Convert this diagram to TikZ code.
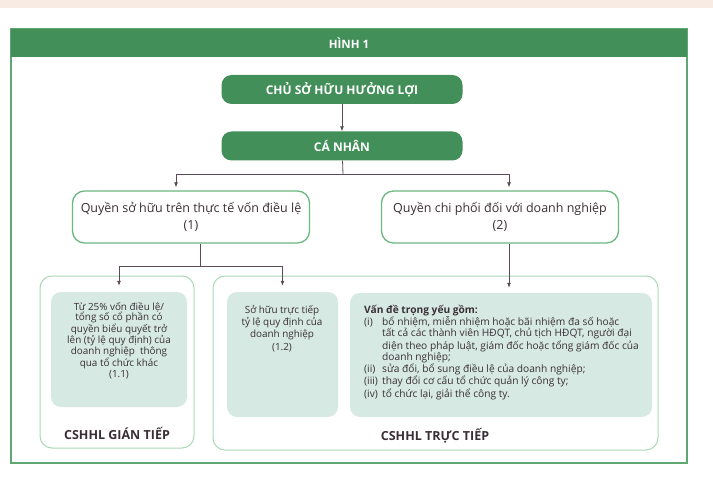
\documentclass[tikz,border=0pt]{standalone}
\usepackage{fontspec}
\setmainfont{Open Sans}
\usetikzlibrary{arrows.meta}
\definecolor{green2}{HTML}{438f5a}
\definecolor{green4}{HTML}{5fa872}
\definecolor{green6}{HTML}{6cb880}
\definecolor{green8}{HTML}{acd8b6}
\definecolor{teal9}{HTML}{d6e9e2}
\definecolor{ink}{HTML}{3a2f36}
\definecolor{wire}{HTML}{5a4b57}
\definecolor{pink9}{HTML}{f8ebe4}
\newcommand{\itm}[1]{\makebox[18pt][l]{#1}}

\begin{document}
\begin{tikzpicture}[x=1pt, y=-1pt, align=center, text=ink,
  headbox/.style={rounded corners=10pt, fill=green2, text=white, minimum width=241pt, minimum height=29pt,
    font=\fontsize{12}{14}\selectfont\bfseries},
  rightbox/.style={draw=green6, line width=1.3pt, fill=white, rounded corners=12pt, minimum width=237pt,
    minimum height=52pt, font=\fontsize{12.5}{17}\selectfont},
  groupbox/.style={draw=green8, line width=1pt, rounded corners=12pt},
  innerbox/.style={fill=teal9, rounded corners=10pt},
  innertext/.style={font=\fontsize{9.9}{10.8}\selectfont, inner sep=0pt},
  grouplabel/.style={font=\fontsize{12.5}{14}\selectfont\bfseries},
  wire/.style={draw=wire, line width=0.8pt},
  arr/.style={wire, -{Latex[length=5pt,width=4pt]}}]
\useasboundingbox (0,0) rectangle (713,484);
\fill[white] (0,0) rectangle (713,484);
\fill[pink9] (0,0) rectangle (713,8);

% frame and header
\draw[green4, line width=1.2pt] (11,29) rectangle (687,463);
\node[fill=green2, text=white, minimum width=676pt, minimum height=28pt, inner sep=0pt,
  font=\fontsize{11.5}{13}\selectfont\bfseries] (fig) at (349,43) {HÌNH 1};

\node[headbox] (owner) at (342,89.5) {CHỦ SỞ HỮU HƯỞNG LỢI};
\node[headbox] (person) at (342,146) {CÁ NHÂN};

\node[rightbox] (own) at (191,217) {Quyền sở hữu trên thực tế vốn điều lệ\\(1)};
\node[rightbox] (ctrl) at (500,217) {Quyền chi phối đối với doanh nghiệp\\(2)};

% groups
\node[groupbox, minimum width=154pt, minimum height=172pt] (ind) at (117,362) {};
\node[groupbox, minimum width=445pt, minimum height=174pt] (dir) at (435.5,363) {};
\node[innerbox, minimum width=136pt, minimum height=115pt] (indin) at (119,349.5) {};
\node[innerbox, minimum width=111pt, minimum height=125pt] (dirin) at (282.5,354.5) {};
\node[innerbox, minimum width=302pt, minimum height=124pt] (keyin) at (501,355) {};

\node[innertext] (indtxt) at (119,340.5) {Từ 25\% vốn điều lệ/\\tổng số cổ phần có\\quyền biểu quyết trở\\lên (tỷ lệ quy định) của\\doanh nghiệp\ \ thông\\qua tổ chức khác\\(1.1)};
\node[innertext, font=\fontsize{9.9}{12.3}\selectfont] (dirtxt) at (282,328.5) {Sở hữu trực tiếp\\tỷ lệ quy định của\\doanh nghiệp\\(1.2)};
\node[innertext, font=\fontsize{10.2}{10.9}\selectfont, align=left, anchor=north west] (keytxt) at (364,305) {\textbf{Vấn đề trọng yếu gồm:}\\
\itm{(i)}bổ nhiệm, miễn nhiệm hoặc bãi nhiệm đa số hoặc\\
\itm{}tất cả các thành viên HĐQT, chủ tịch HĐQT, người đại\\
\itm{}diện theo pháp luật, giám đốc hoặc tổng giám đốc của\\
\itm{}doanh nghiệp;\\
\itm{(ii)}sửa đổi, bổ sung điều lệ của doanh nghiệp;\\
\itm{(iii)}thay đổi cơ cấu tổ chức quản lý công ty;\\
\itm{(iv)}tổ chức lại, giải thể công ty.};

\node[grouplabel] (indlbl) at (117,433) {CSHHL GIÁN TIẾP};
\node[grouplabel] (dirlbl) at (435,436) {CSHHL TRỰC TIẾP};

% connectors
\coordinate (split1) at (343,174);
\coordinate (split2) at (200,266);
\draw[arr] (owner) -- (person);
\draw[wire] (person) -- (split1);
\draw[arr, shorten >=3pt] (split1) -| ([xshift=-15pt]own.north);
\draw[arr, shorten >=3pt] (split1) -| ([xshift=9pt]ctrl.north);
\draw[wire] ([xshift=9pt]own.south) -- (split2);
\draw[arr, shorten >=6pt] (split2) -| (indin.north);
\draw[arr, shorten >=6pt] (split2) -| (dirin.north);
\draw[arr, shorten >=5pt] ([xshift=9pt]ctrl.south) -- ([xshift=9pt]ctrl.south |- keyin.north);
\end{tikzpicture}
\end{document}
